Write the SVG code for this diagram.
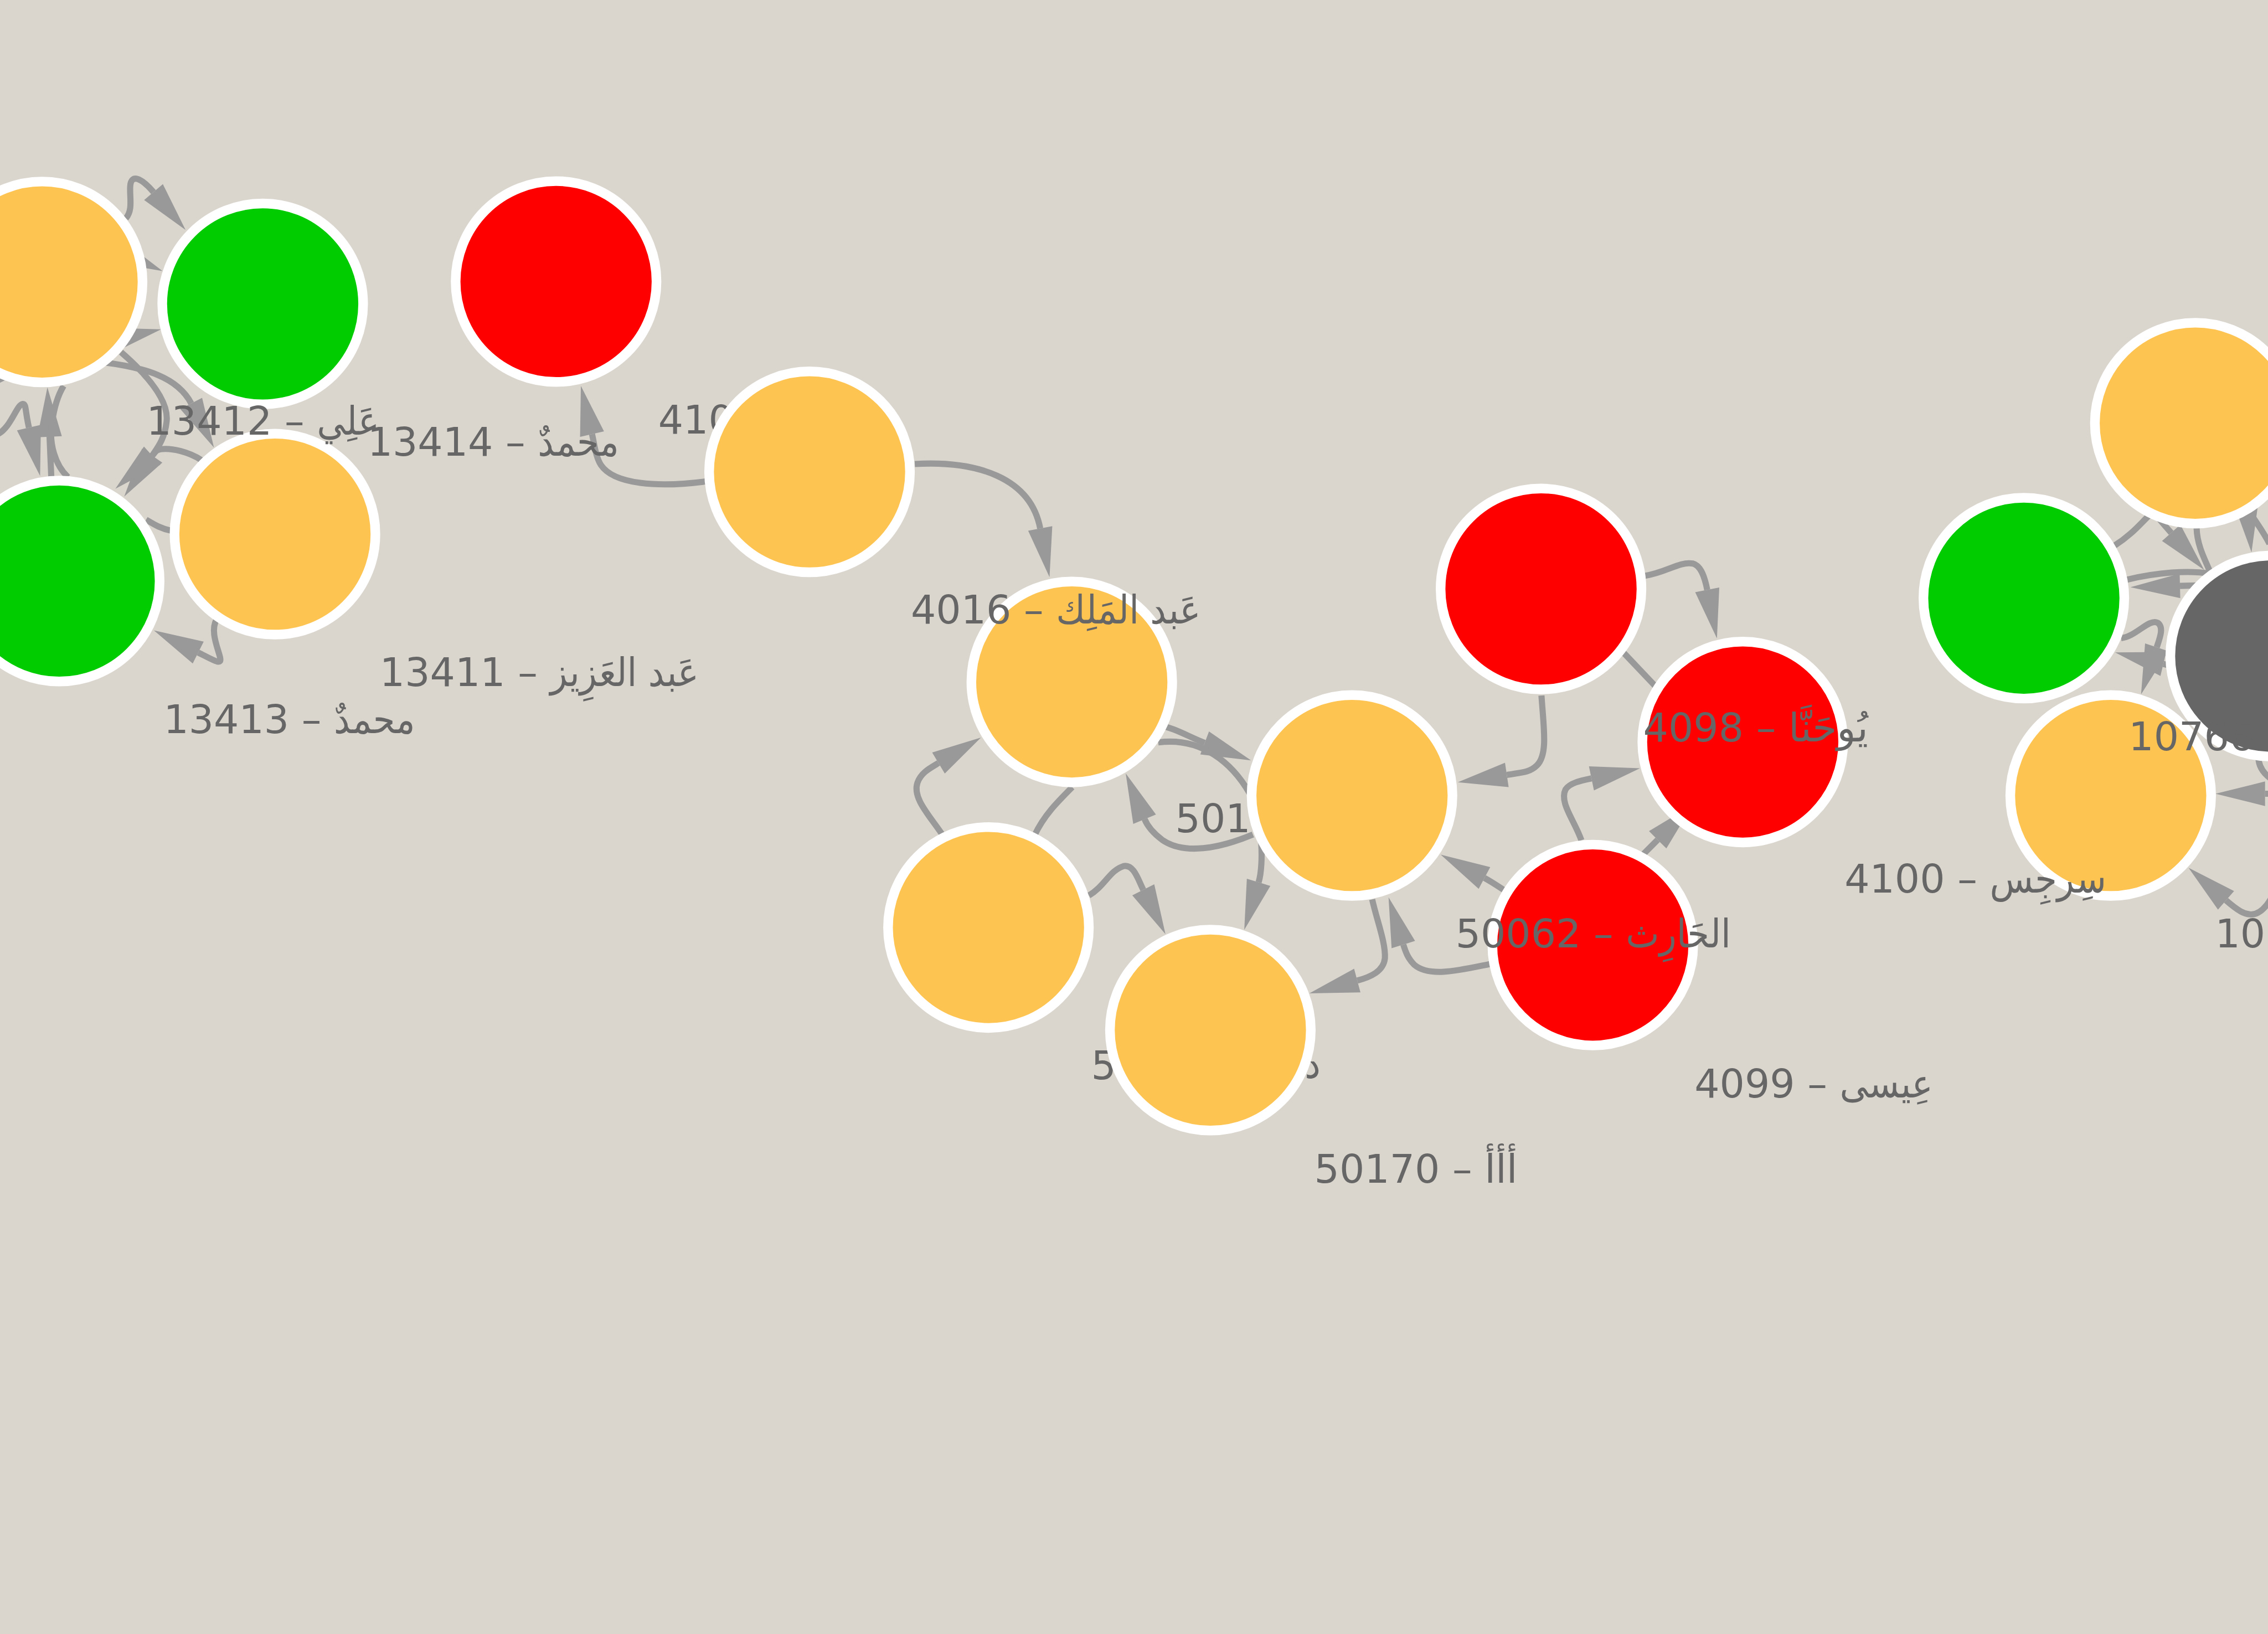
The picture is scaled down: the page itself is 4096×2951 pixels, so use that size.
<svg xmlns="http://www.w3.org/2000/svg" width="4096" height="2951" viewBox="0 0 4096 2951">
<style>
.e{fill:none;stroke:#999;stroke-width:14}
.n circle{stroke:#fff;stroke-width:22}
.y{fill:#fec452}.g{fill:#00cc00}.r{fill:#ff0000}.d{fill:#666}
text{font-family:"DejaVu Sans","Noto Sans",sans-serif;font-size:90px;fill:#666}
.ar{font-family:"DejaVu Sans Condensed","DejaVu Sans",sans-serif;font-stretch:condensed}
</style>
<defs>
<marker id="ah" markerUnits="userSpaceOnUse" orient="auto" overflow="visible" refX="0" refY="0" markerWidth="1" markerHeight="1"><path d="M0,-28 L113,0 L0,28 z" fill="#999"/></marker>
</defs>
<rect width="4096" height="2951" fill="#dad6ce"/>
<g transform="scale(0.792)">
<g id="edges">
<path class="e" marker-end="url(#ah)" d="M287,498 C304,478 295,450 297,424 C299,396 322,405 350,438"/>
<path class="e" marker-end="url(#ah)" d="M170,531 L267,573"/>
<path class="e" marker-end="url(#ah)" d="M170,794 L257,775"/>
<path class="e" marker-end="url(#ah)" d="M235,826 C330,838 405,860 436,920"/>
<path class="e" marker-end="url(#ah)" d="M276,803 C330,850 385,910 380,960 C376,1000 360,1020 347,1039"/>
<path class="e" marker-end="url(#ah)" d="M459,1049 C430,1030 392,1022 370,1024 C352,1026 357,1030 347,1039"/>
<path class="e" marker-end="url(#ah)" d="M-5,990 C25,975 38,922 52,921 C60,921 57,936 66,975"/>
<path class="e" marker-end="url(#ah)" d="M117,1088 L113,996"/>
<path class="e" d="M155,1088 C125,1060 112,1010 118,970 C122,935 130,905 145,880"/>
<path class="e" d="M333,1185 C350,1195 365,1205 390,1210"/>
<path class="e" marker-end="url(#ah)" d="M494,1412 C478,1440 498,1480 502,1500 C506,1518 488,1506 452,1488"/>
<path class="e" marker-end="url(#ah)" d="M1608,1098 C1500,1112 1400,1105 1370,1060 C1358,1040 1356,1016 1350,990"/>
<path class="e" marker-end="url(#ah)" d="M2086,1058 C2230,1050 2350,1090 2372,1205"/>
<path class="e" d="M-30,880 L30,850"/>
<path class="e" marker-end="url(#ah)" d="M2150,1905 C2120,1860 2080,1820 2092,1785 C2100,1762 2120,1752 2140,1740"/>
<path class="e" d="M2359,1905 C2380,1860 2410,1830 2445,1795"/>
<path class="e" marker-end="url(#ah)" d="M2483,2042 C2520,2020 2530,1985 2562,1975 C2585,1970 2595,2005 2607,2029"/>
<path class="e" marker-end="url(#ah)" d="M2637,1652 C2680,1660 2710,1680 2747,1694"/>
<path class="e" marker-end="url(#ah)" d="M2641,1693 C2740,1680 2810,1740 2850,1810 C2878,1860 2883,1969 2870,2012"/>
<path class="e" marker-end="url(#ah)" d="M2857,1903 C2780,1935 2700,1950 2650,1915 C2630,1900 2617,1885 2610,1868"/>
<path class="e" marker-end="url(#ah)" d="M3515,1586 C3520,1660 3530,1720 3505,1745 C3490,1760 3476,1761 3436,1767"/>
<path class="e" marker-end="url(#ah)" d="M3751,1313 C3800,1305 3830,1280 3860,1285 C3880,1290 3888,1320 3893,1345"/>
<path class="e" d="M3700,1486 L3775,1565"/>
<path class="e" marker-end="url(#ah)" d="M3606,1916 C3590,1870 3555,1830 3570,1800 C3580,1785 3605,1780 3629,1775"/>
<path class="e" marker-end="url(#ah)" d="M3747,1948 L3780,1915"/>
<path class="e" marker-end="url(#ah)" d="M3430,2030 C3415,2020 3400,2010 3385,2002"/>
<path class="e" marker-end="url(#ah)" d="M3399,2198 C3330,2212 3260,2230 3225,2200 C3210,2185 3205,2170 3200,2154"/>
<path class="e" marker-end="url(#ah)" d="M3129,2051 C3140,2100 3160,2150 3158,2185 C3155,2215 3125,2228 3095,2236"/>
<path class="e" d="M4822,1244 C4860,1220 4880,1195 4900,1176"/>
<path class="e" marker-end="url(#ah)" d="M4905,1160 C4920,1180 4935,1197 4951,1215"/>
<path class="e" d="M5009,1205 C5010,1245 5030,1280 5040,1305"/>
<path class="e" d="M4849,1322 C4920,1305 4990,1300 5040,1308"/>
<path class="e" marker-end="url(#ah)" d="M5010,1335 L4971,1336"/>
<path class="e" marker-end="url(#ah)" d="M4837,1455 C4870,1452 4900,1410 4920,1420 C4935,1430 4925,1455 4918,1476"/>
<path class="e" marker-end="url(#ah)" d="M5000,1530 L4933,1514"/>
<path class="e" marker-end="url(#ah)" d="M5250,1810 L5165,1810"/>
<path class="e" marker-end="url(#ah)" d="M5200,2010 C5180,2050 5160,2088 5130,2085 C5118,2084 5106,2079 5076,2053"/>
<path class="e" d="M5150,1720 C5148,1745 5160,1765 5185,1780"/>
<path class="e" marker-end="url(#ah)" d="M5118,1110 L5122,1147"/>
<path class="e" d="M5125,1160 C5140,1185 5160,1210 5175,1240"/>
</g>
<g id="labels-under">
<text x="1501" y="989">410</text>
<text x="2680" y="1898">501</text>
<text x="2488" y="2461">5</text>
<text class="ar" x="2975" y="2458">د</text>
</g>
<g id="n1" class="n"><circle class="y" cx="96" cy="643" r="229"/></g>
<g id="n2" class="n"><circle class="g" cx="599" cy="693" r="229"/></g>
<g id="n3" class="n"><circle class="r" cx="1268" cy="642" r="229"/></g>
<g id="n4" class="n"><circle class="g" cx="135" cy="1325" r="229"/></g>
<g id="n5" class="n"><circle class="y" cx="627" cy="1218" r="229"/></g>
<g id="n6" class="n"><circle class="y" cx="1846" cy="1076" r="229"/></g>
<g id="n7" class="n"><circle class="y" cx="2444" cy="1555" r="229"/></g>
<g id="n8" class="n"><circle class="y" cx="3083" cy="1814" r="229"/></g>
<g id="n9" class="n"><circle class="y" cx="2254" cy="2115" r="229"/></g>
<g id="n10" class="n"><circle class="y" cx="2760" cy="2349" r="229"/></g>
<g id="n11" class="n"><circle class="r" cx="3514" cy="1343" r="229"/></g>
<g id="n12" class="n"><circle class="r" cx="3974" cy="1692" r="229"/></g>
<g id="n13" class="n"><circle class="r" cx="3632" cy="2155" r="229"/></g>
<g id="n14" class="n"><circle class="g" cx="4615" cy="1364" r="229"/></g>
<g id="n15" class="n"><circle class="y" cx="5006" cy="965" r="229"/></g>
<g id="n17" class="n"><circle class="y" cx="4813" cy="1814" r="229"/></g>
<g id="n18" class="n"><circle class="y" cx="5412" cy="1843" r="229"/></g>
<g id="n16" class="n"><circle class="d" cx="5178" cy="1496" r="229"/></g>
<g id="labels">
<text x="334" y="991">13412 – <tspan class="ar">عَلِي</tspan></text>
<text x="838" y="1039">13414 – <tspan class="ar">محمدٌ</tspan></text>
<text x="866" y="1565">13411 – <tspan class="ar">عَبد العَزِيز</tspan></text>
<text x="373" y="1672">13413 – <tspan class="ar">محمدٌ</tspan></text>
<text x="2077" y="1422">4016 – <tspan class="ar">عَبد المَلِك</tspan></text>
<text x="2997" y="2697">50170 – أأأ</text>
<text x="3864" y="2502">4099 – <tspan class="ar">عِيسى</tspan></text>
<text x="3747" y="1691">4098 – يُوحَنَّا</text>
<text x="3319" y="2160">50062 – <tspan class="ar">الحَارِث</tspan></text>
<text x="4206" y="2035">4100 – <tspan class="ar">سِرجِس</tspan></text>
<text x="5051" y="2160">107</text>
<text x="4854" y="1711">10766</text>
</g>
</g>
</svg>
